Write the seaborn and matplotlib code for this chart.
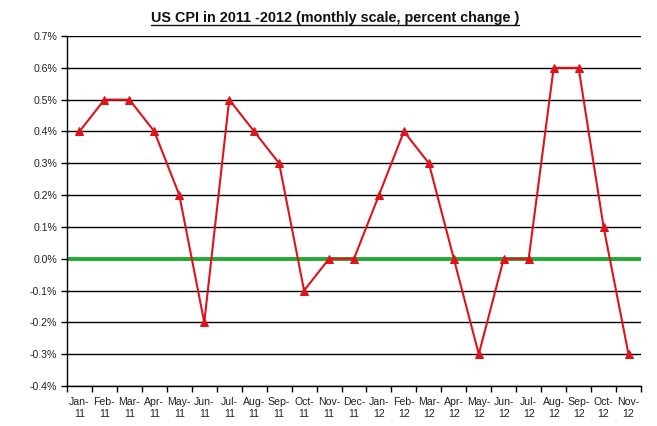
import pandas as pd
import matplotlib
matplotlib.use("Agg")
import matplotlib.pyplot as plt
from matplotlib.lines import Line2D
from matplotlib.ticker import FuncFormatter, MultipleLocator
import seaborn as sns

months = ['Jan-\n11', 'Feb-\n11', 'Mar-\n11', 'Apr-\n11', 'May-\n11', 'Jun-\n11', 'Jul-\n11',
          'Aug-\n11', 'Sep-\n11', 'Oct-\n11', 'Nov-\n11', 'Dec-\n11', 'Jan-\n12', 'Feb-\n12',
          'Mar-\n12', 'Apr-\n12', 'May-\n12', 'Jun-\n12', 'Jul-\n12', 'Aug-\n12', 'Sep-\n12',
          'Oct-\n12', 'Nov-\n12']
cpi = [0.4, 0.5, 0.5, 0.4, 0.2, -0.2, 0.5, 0.4, 0.3, -0.1, 0.0, 0.0,
       0.2, 0.4, 0.3, 0.0, -0.3, 0.0, 0.0, 0.6, 0.6, 0.1, -0.3]

df = pd.DataFrame({'pos': range(len(months)), 'cpi': cpi})

sns.set_style('white')
plt.rcParams['font.family'] = ['Liberation Sans', 'DejaVu Sans']

fig = plt.figure(figsize=(6.57, 4.26), dpi=100)
ax = fig.add_axes([67 / 657, 1 - 386 / 426, (641 - 67) / 657, (386 - 36) / 426])

ax.yaxis.set_major_locator(MultipleLocator(0.1))
ax.set_ylim(-0.4, 0.7)
ax.grid(axis='y', color='black', linewidth=1)
ax.set_axisbelow(True)

ax.axhline(0, color='#22aa33', linewidth=2.8, zorder=2)
sns.lineplot(data=df, x='pos', y='cpi', ax=ax, color='#e0121a', linewidth=1.5,
             marker='^', markersize=6.3, markeredgecolor='#e0121a', zorder=3)

ax.set_xlim(-0.5, len(months) - 0.5)
ax.set_xticks([i + 0.5 for i in range(-1, len(months))], minor=False)
ax.set_xticklabels([])
ax.set_xticks(range(len(months)), minor=True)
ax.set_xticklabels(months, minor=True, fontsize=7.6, color='#222222', linespacing=1.25)
ax.tick_params(axis='x', which='minor', bottom=False, length=0, pad=8)
ax.tick_params(axis='x', which='major', bottom=True, length=4, width=1, color='black',
               direction='out')
ax.tick_params(axis='y', left=True, length=4, width=1, direction='out', labelsize=7.6,
               labelcolor='#222222', color='black', pad=3)
ax.yaxis.set_major_formatter(FuncFormatter(lambda v, p: f'{v:.1f}%'))
ax.set_xlabel('')
ax.set_ylabel('')

for side in ['top', 'right']:
    ax.spines[side].set_visible(False)
for side in ['left', 'bottom']:
    ax.spines[side].set_color('black')
    ax.spines[side].set_linewidth(1)

title = fig.text(335 / 657, 1 - 22 / 426, 'US CPI in 2011 -2012 (monthly scale, percent change )',
                 ha='center', va='baseline', fontsize=10.4, fontweight='bold', color='#111111')

# underline the title like the original
fig.canvas.draw()
bb = title.get_window_extent().transformed(fig.transFigure.inverted())
y_ul = 1 - 25 / 426
fig.add_artist(Line2D([bb.x0, bb.x1], [y_ul, y_ul], transform=fig.transFigure,
                      color='#111111', linewidth=1))

fig.savefig('out.png', dpi=100)
